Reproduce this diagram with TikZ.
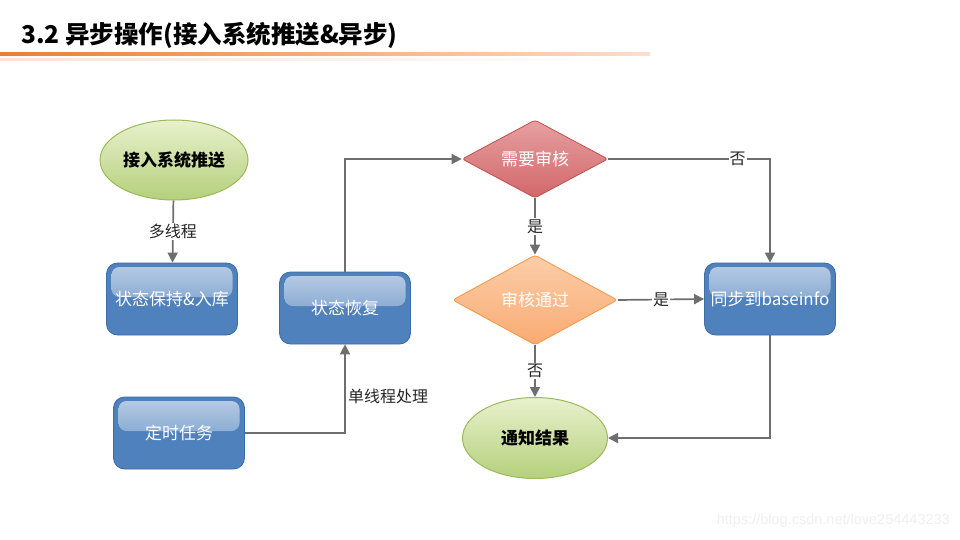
\documentclass[tikz,border=0pt]{standalone}
\usepackage{fontspec}
\setmainfont{Noto Sans CJK SC}
\newfontfamily\wmfont{Liberation Sans}
\usetikzlibrary{shapes.geometric,arrows.meta}
\definecolor{bblue}{HTML}{4F81BD}
\definecolor{bborder}{HTML}{3E6DA6}
\definecolor{gborder}{HTML}{9BBB59}
\definecolor{gtop}{HTML}{E8F1CC}
\definecolor{gbot}{HTML}{B4D07C}
\definecolor{rborder}{HTML}{C0504D}
\definecolor{rtop}{HTML}{E6A0A1}
\definecolor{rbot}{HTML}{D2676A}
\definecolor{oborder}{HTML}{F79646}
\definecolor{otop}{HTML}{FCCDA8}
\definecolor{obot}{HTML}{F9AB72}
\definecolor{lgray}{HTML}{6E6E6E}
\definecolor{orangeline}{HTML}{EE7D31}
\begin{document}
\begin{tikzpicture}[x=1pt,y=-1pt,
  conn/.style={draw=lgray, line width=1.7pt},
  arr/.style={conn, -{Triangle[length=10pt,width=10pt]}},
  bluebox/.style={rectangle, rounded corners=11pt, draw=bborder, line width=0.8pt,
    fill=bblue, minimum width=131pt, minimum height=72pt, text=white, inner sep=2pt,
    font=\fontsize{17}{20}\selectfont,
    path picture={\shade[top color=white!60!bblue, bottom color=bblue!92!white, rounded corners=8pt]
      ([xshift=5pt,yshift=-4pt]path picture bounding box.north west) rectangle
      ([xshift=-5pt,yshift=-34pt]path picture bounding box.north east);}},
  greenell/.style={ellipse, draw=gborder, line width=1pt, top color=gtop, bottom color=gbot,
    minimum width=148pt, minimum height=80pt, inner sep=0pt,
    font=\bfseries\fontsize{17}{20}\selectfont},
  reddiam/.style={diamond, aspect=1.9, draw=rborder, line width=0.8pt, top color=rtop,
    bottom color=rbot, minimum width=146pt, minimum height=78pt, inner sep=0pt,
    rounded corners=3pt, text=white, font=\fontsize{17}{20}\selectfont},
  orangediam/.style={diamond, aspect=1.85, draw=oborder, line width=0.8pt, top color=otop,
    bottom color=obot, minimum width=165pt, minimum height=90pt, inner sep=0pt,
    rounded corners=3pt, text=white, font=\fontsize{17}{20}\selectfont},
  lbl/.style={fill=white, inner sep=1pt, text=black!85, font=\fontsize{16}{18}\selectfont}
]
\useasboundingbox (0,0) rectangle (960,540);
\fill[white] (0,0) rectangle (960,540);
% title
\node[anchor=west, inner sep=0pt, font=\bfseries\fontsize{24.5}{28}\selectfont] (title) at (21,35) {3.2 异步操作(接入系统推送\&异步)};
\shade[left color=orangeline, right color=orangeline!25!white] (0,52.5) rectangle (650,55.5);
\shade[left color=orangeline!22!white, right color=white] (0,59) rectangle (650,61);
% nodes
\node[greenell] (src) at (174,160) {接入系统推送};
\node[bluebox] (keep) at (172,299) {状态保持\&入库};
\node[bluebox] (restore) at (345,308) {状态恢复};
\node[bluebox] (timer) at (179,433) {定时任务};
\node[reddiam] (need) at (535,159) {需要审核};
\node[orangediam] (pass) at (535,300) {审核通过};
\node[greenell, minimum width=145pt, minimum height=81pt] (notify) at (535,438) {通知结果};
\node[bluebox] (sync) at (770,299) {同步到baseinfo};
% connectors
\draw[arr] (src) -- node[lbl] {多线程} (keep);
\draw[arr] (timer.east) -| (restore.south);
\node[anchor=west, inner sep=0pt, text=black!85, font=\fontsize{16}{18}\selectfont] (single) at (348,396) {单线程处理};
\draw[arr] (restore.north) |- (need.west);
\draw[arr] (need.south) -- node[lbl] {是} (pass.north);
\draw[arr] (pass.south) -- node[lbl] {否} (notify.north);
\draw[arr] (need.east) -| node[lbl, pos=0.4] {否} (sync.north);
\draw[arr] (pass.east) -- node[lbl] {是} (sync.west);
\draw[arr] (sync.south) |- (notify.east);
% watermark
\node[anchor=east, inner sep=0pt, text=black!6, font=\wmfont\fontsize{14.5}{17}\selectfont] (wm) at (950,521) {https://blog.csdn.net/love254443233};
\end{tikzpicture}
\end{document}
